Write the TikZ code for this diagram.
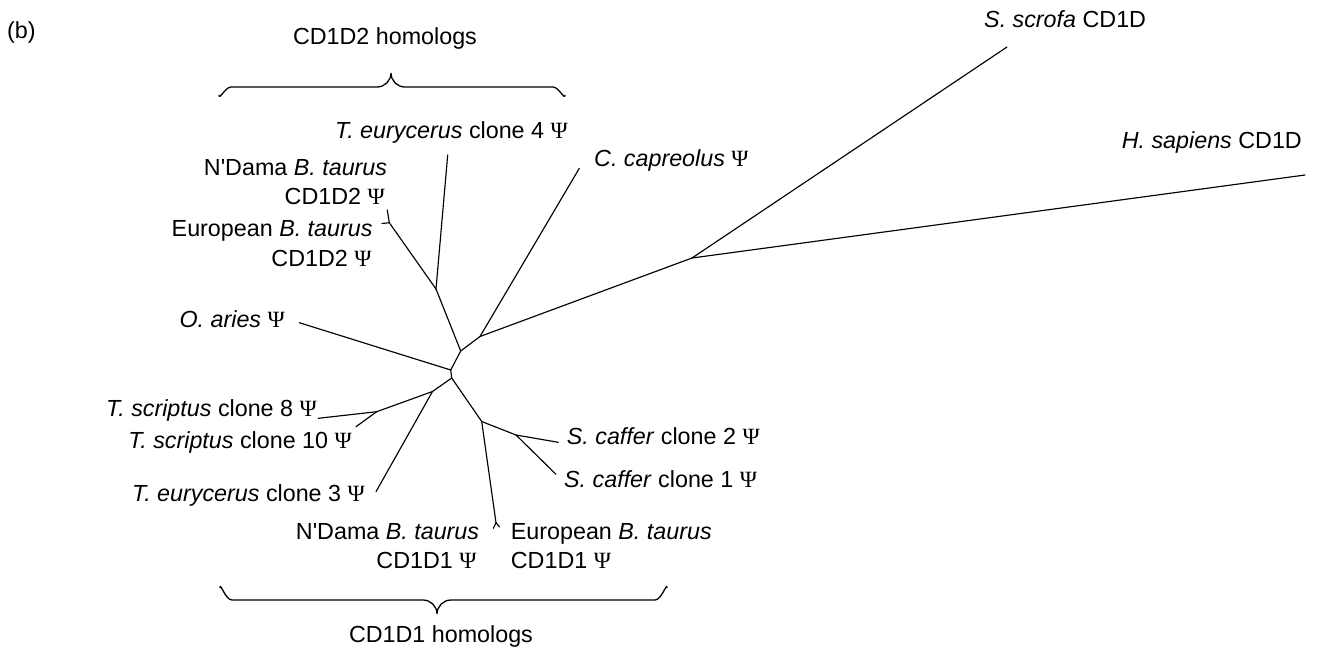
\documentclass[tikz,border=0pt]{standalone}
\usepackage{fontspec}
\setmainfont{Liberation Sans}
\newfontfamily\psifont{Liberation Serif}
\newcommand\Psy{{\psifont Ψ}}
\begin{document}
\begin{tikzpicture}[x=1pt,y=-1pt,
  edge/.style={line width=1.15pt, line cap=round, line join=round},
  brc/.style={line width=1.3pt},
  lab/.style={inner sep=0pt, font=\fontsize{23.3}{29}\selectfont},
  lw/.style={lab, anchor=base west},
  le/.style={lab, anchor=base east}]
\useasboundingbox (0,0) rectangle (1319,654);
% internal nodes
\coordinate (A) at (436,289);
\coordinate (B) at (460.7,351);
\coordinate (C) at (480,336.5);
\coordinate (D) at (692,258);
\coordinate (E) at (450.7,370);
\coordinate (F) at (451.7,378);
\coordinate (G) at (432.5,391.5);
\coordinate (H) at (376.7,411.7);
\coordinate (I) at (481.7,421.5);
\coordinate (J) at (516,435);
\coordinate (K) at (496,522.7);
\coordinate (L) at (389.3,222.7);
% tips
\coordinate (t4) at (447.7,155);
\coordinate (tCap) at (579.3,168.3);
\coordinate (tScr) at (1007,47);
\coordinate (tHs) at (1305,175);
\coordinate (tOa) at (299.3,322.7);
\coordinate (t8) at (318.3,418.3);
\coordinate (t10) at (356,426.7);
\coordinate (t3) at (376,491.7);
\coordinate (tc2) at (558.3,442.3);
\coordinate (tc1) at (556,474.3);
\coordinate (tNdA) at (493.3,528.3);
\coordinate (tEuA) at (499.5,527);
\coordinate (tNdB) at (387.3,210);
\coordinate (tEuB) at (382,223.5);
% edges
\draw[edge] (A) -- (t4);
\draw[edge] (A) -- (L);
\draw[edge] (L) -- (tNdB);
\draw[edge] (L) -- (tEuB);
\draw[edge] (A) -- (B);
\draw[edge] (B) -- (C);
\draw[edge] (C) -- (tCap);
\draw[edge] (C) -- (D);
\draw[edge] (D) -- (tScr);
\draw[edge] (D) -- (tHs);
\draw[edge] (B) -- (E);
\draw[edge] (E) -- (tOa);
\draw[edge] (E) -- (F);
\draw[edge] (F) -- (G);
\draw[edge] (G) -- (H);
\draw[edge] (H) -- (t8);
\draw[edge] (H) -- (t10);
\draw[edge] (G) -- (t3);
\draw[edge] (F) -- (I);
\draw[edge] (I) -- (J);
\draw[edge] (J) -- (tc2);
\draw[edge] (J) -- (tc1);
\draw[edge] (I) -- (K);
\draw[edge] (K) -- (tNdA);
\draw[edge] (K) -- (tEuA);
% braces
\coordinate (bt1) at (219,95);
\coordinate (bt2) at (391,73);
\coordinate (bt3) at (565,95);
\draw[brc] (bt1) to[out=-90,in=180] (231,87) -- (377,87) to[out=0,in=-90] (bt2)
  to[out=-90,in=180] (405,87) -- (553,87) to[out=0,in=-90] (bt3);
\coordinate (bb1) at (220,588);
\coordinate (bb2) at (437,614);
\coordinate (bb3) at (667,588);
\draw[brc] (bb1) to[out=90,in=180] (232,600) -- (423,600) to[out=0,in=90] (bb2)
  to[out=90,in=180] (451,600) -- (655,600) to[out=0,in=90] (bb3);
% labels
\node[lw] (tag) at (7,38.5) {(b)};
\node[lab, anchor=base] (h2) at (385,44) {CD1D2 homologs};
\node[lab, anchor=base] (h1) at (441,642) {CD1D1 homologs};
\node[le] (l4) at (568,138.3) {\textit{T. eurycerus} clone 4 \Psy};
\node[le] (lNdB1) at (387.3,175) {N\textquotesingle Dama \textit{B. taurus}};
\node[le] (lNdB2) at (385,204) {CD1D2 \Psy};
\node[le] (lEuB1) at (372.7,236.7) {European \textit{B. taurus}};
\node[le] (lEuB2) at (371.7,266.7) {CD1D2 \Psy};
\node[lw] (lCap) at (594,166) {\textit{C. capreolus} \Psy};
\node[lw] (lScr) at (984,27) {\textit{S. scrofa} CD1D};
\node[le] (lHs) at (1302,148) {\textit{H. sapiens} CD1D};
\node[le] (lOa) at (285,327) {\textit{O. aries} \Psy};
\node[le] (l8) at (317,416) {\textit{T. scriptus} clone 8 \Psy};
\node[le] (l10) at (352,448.5) {\textit{T. scriptus} clone 10 \Psy};
\node[le] (l3) at (365,501.7) {\textit{T. eurycerus} clone 3 \Psy};
\node[le] (lNdA1) at (479.3,539.5) {N\textquotesingle Dama \textit{B. taurus}};
\node[le] (lNdA2) at (476.7,568.3) {CD1D1 \Psy};
\node[lw] (lEuA1) at (510.7,539.5) {European \textit{B. taurus}};
\node[lw] (lEuA2) at (510.7,568.3) {CD1D1 \Psy};
\node[lw] (lc2) at (566.7,444) {\textit{S. caffer} clone 2 \Psy};
\node[lw] (lc1) at (564,487.3) {\textit{S. caffer} clone 1 \Psy};
\end{tikzpicture}
\end{document}
